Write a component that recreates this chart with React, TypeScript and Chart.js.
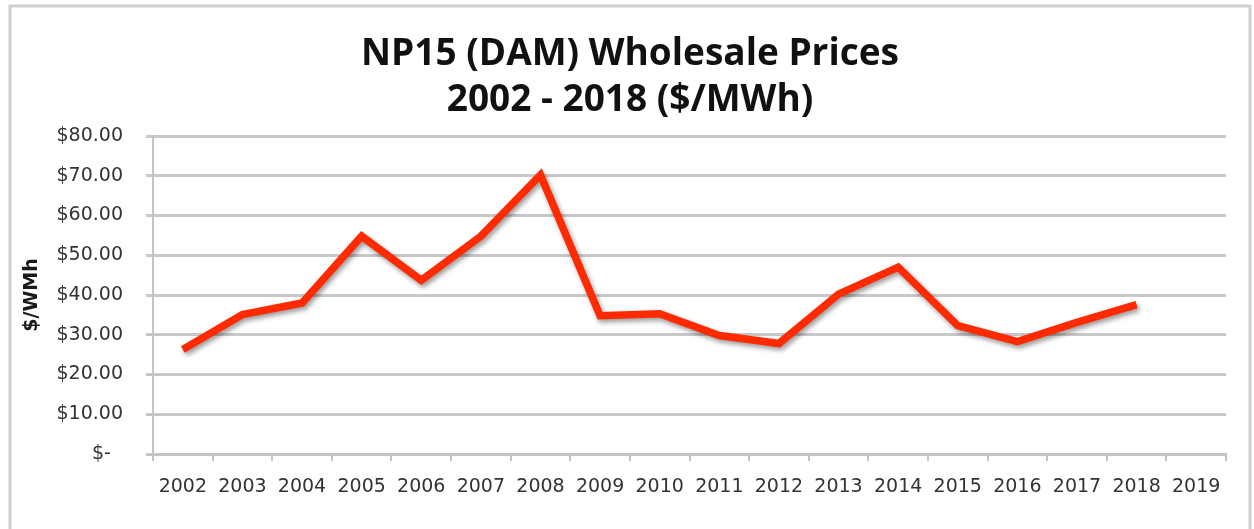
import React, { useEffect, useRef } from 'react';
import { Chart, registerables } from 'chart.js';

Chart.register(...registerables);

const years = ['2002', '2003', '2004', '2005', '2006', '2007', '2008', '2009', '2010', '2011', '2012', '2013', '2014', '2015', '2016', '2017', '2018', '2019'];
const prices: (number | null)[] = [26.3, 35.1, 38.0, 54.8, 43.7, 54.8, 70.2, 34.8, 35.3, 29.8, 27.8, 40.2, 47.0, 32.3, 28.3, 33.1, 37.6, null];
const yMin = 0;
const yMax = 80;
const yStep = 10;
const titleLines = ['NP15 (DAM) Wholesale Prices', '2002 - 2018 ($/MWh)'];
const yAxisTitle = '$/WMh';

const formatTick = (v: number) => (v === 0 ? '$-  ' : '$' + v.toFixed(2));

const framePlugin = {
  id: 'frame',
  beforeDraw(chart: any) {
    const ctx = chart.ctx;
    ctx.save();
    ctx.fillStyle = '#ffffff';
    ctx.fillRect(0, 0, chart.width, chart.height);
    ctx.strokeStyle = '#d0d0d0';
    ctx.lineWidth = 3;
    ctx.strokeRect(10, 6, 1240, 600);
    ctx.restore();
  },
};

const shadowPlugin = {
  id: 'lineShadow',
  beforeDatasetsDraw(chart: any) {
    const ctx = chart.ctx;
    ctx.save();
    ctx.shadowColor = 'rgba(0,0,0,0.4)';
    ctx.shadowBlur = 5;
    ctx.shadowOffsetX = 2;
    ctx.shadowOffsetY = 3;
  },
  afterDatasetsDraw(chart: any) {
    chart.ctx.restore();
  },
};

export default function App() {
  const ref = useRef<HTMLCanvasElement | null>(null);

  useEffect(() => {
    if (!ref.current) return;
    const tickFont = { family: "'DejaVu Sans', sans-serif", size: 19 };
    const chart = new Chart(ref.current, {
      type: 'line',
      data: {
        labels: years,
        datasets: [
          {
            label: 'NP15 DAM',
            data: prices,
            borderColor: '#ff2a00',
            borderWidth: 7.5,
            borderJoinStyle: 'miter',
            borderCapStyle: 'butt',
            pointRadius: 0,
            fill: false,
            tension: 0,
            yAxisID: 'y',
          },
        ],
      },
      options: {
        responsive: false,
        animation: false,
        devicePixelRatio: 1,
        layout: { padding: { left: 6, right: 0, top: 0, bottom: 0 } },
        plugins: {
          legend: { display: false },
          tooltip: { enabled: false },
          title: {
            display: true,
            text: titleLines,
            color: '#111111',
            font: { family: "'Open Sans', sans-serif", weight: 'bold', size: 37, lineHeight: 46 / 37 },
            padding: { top: 31, bottom: 13 },
          },
        },
        scales: {
          x: {
            type: 'category',
            offset: true,
            grid: {
              drawOnChartArea: false,
              drawTicks: true,
              tickLength: 7,
              offset: true,
              color: '#c4c4c4',
              lineWidth: 2,
            },
            border: { display: true, color: '#c4c4c4', width: 3 },
            ticks: {
              color: '#333333',
              font: tickFont,
              padding: 15,
              maxRotation: 0,
              autoSkip: false,
            },
            afterFit(scale: any) {
              scale.height = 75;
            },
          },
          y: {
            position: 'left',
            min: yMin,
            max: yMax,
            ticks: {
              stepSize: yStep,
              color: '#333333',
              font: tickFont,
              padding: 23,
              callback: (v: any) => formatTick(Number(v)),
            },
            grid: {
              color: '#c8c8c8',
              lineWidth: 3,
              tickLength: 7,
            },
            border: { display: true, color: '#c4c4c4', width: 2 },
            title: {
              display: true,
              text: yAxisTitle,
              color: '#1a1a1a',
              font: { family: "'DejaVu Sans', sans-serif", weight: 'bold', size: 19 },
              padding: { top: 15, bottom: 0 },
            },
            afterFit(scale: any) {
              scale.width = 147;
            },
          },
          spacer: {
            position: 'right',
            min: yMin,
            max: yMax,
            ticks: { display: false },
            grid: { display: false, drawTicks: false },
            border: { display: false },
            afterFit(scale: any) {
              scale.width = 28;
            },
          },
        },
      },
      plugins: [framePlugin, shadowPlugin],
    });
    return () => chart.destroy();
  }, []);

  return (
    <div style={{ position: 'fixed', left: 0, top: 0, width: 1254, height: 529, background: '#fff' }}>
      <canvas ref={ref} width={1254} height={529} style={{ display: 'block' }} />
    </div>
  );
}
